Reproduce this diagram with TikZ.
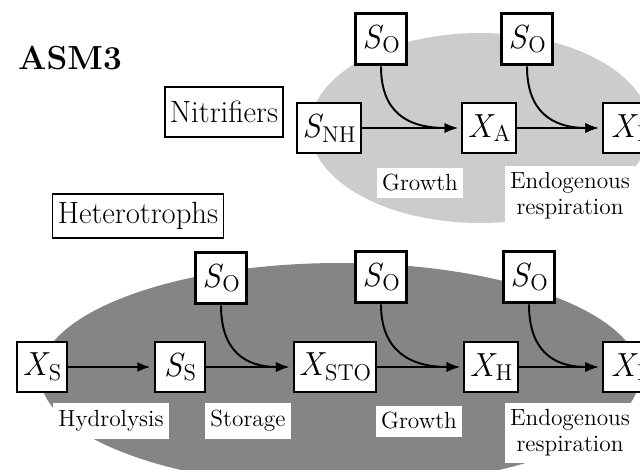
\documentclass[tikz,border=0pt]{standalone}
\usepackage{fontspec}
\usepackage{tikz}
\usetikzlibrary{arrows.meta}

% italic variable with an upright index
\newcommand{\vsub}[2]{\textit{#1}\kern-0.5pt\raisebox{-0.32ex}{\fontsize{13}{13}\selectfont #2}}

\tikzset{
  var/.style={draw, line width=1.1pt, fill=white, minimum height=28.5pt,
    minimum width=28.5pt, inner xsep=3pt, font=\fontsize{19}{22}\selectfont},
  oxy/.style={var, line width=1.7pt, minimum width=29.5pt, minimum height=29.5pt},
  group/.style={draw, line width=1.1pt, fill=white, inner xsep=3pt,
    font=\fontsize{17.5}{20}\selectfont},
  proc/.style={fill=white, inner xsep=3pt, inner ysep=4pt, align=center,
    font=\fontsize{13.3}{14.8}\selectfont},
  flow/.style={line width=1.3pt, -{Latex[length=7.5pt,width=5.7pt]}, shorten >=2pt},
  feed/.style={flow, line width=1.1pt},
}

\begin{document}
\begin{tikzpicture}[x=0.02cm,y=-0.02cm] % one unit = one pixel, y pointing down
\useasboundingbox (0,0) rectangle (640,470);
\clip (0,0) rectangle (640,470);

% the two biomass groups
\fill[black!20] (480,128) ellipse [x radius=170, y radius=95];
\fill[black!48] (340,375) ellipse [x radius=300, y radius=112];

\node[font=\fontsize{19}{22}\selectfont\bfseries] (title) at (70,58) {ASM3};
\node[group, minimum height=28pt] (nitr) at (224,112) {Nitrifiers};
\node[group, minimum height=25pt] (het) at (138,216) {Heterotrophs};

% process names
\node[proc] (growA) at (420,183) {Growth};
\node[proc] (respA) at (570,196) {Endogenous\\respiration};
\node[proc] (hydr) at (111,421) {Hydrolysis};
\node[proc] (stor) at (248,421) {Storage};
\node[proc] (growH) at (419,421) {Growth};
\node[proc] (respH) at (570,433) {Endogenous\\respiration};

% nitrifiers
\node[oxy] (so1) at (381,39) {\vsub{S}{O}};
\node[oxy] (so2) at (527,39) {\vsub{S}{O}};
\node[var] (snh) at (329,128) {\vsub{S}{NH}};
\node[var] (xa) at (489,128) {\vsub{X}{A}};
\node[var] (xi1) at (628,128) {\vsub{X}{I}};

\draw[flow] (snh) -- (xa);
\draw[flow] (xa) -- (xi1);
\draw[feed] (so1.south) .. controls +(0,45) and +(-55,0) .. (xa.west);
\draw[feed] (so2.south) .. controls +(0,45) and +(-50,0) .. (xi1.west);

% heterotrophs
\node[oxy] (so3) at (221,278) {\vsub{S}{O}};
\node[oxy] (so4) at (381,277) {\vsub{S}{O}};
\node[oxy] (so5) at (529,277) {\vsub{S}{O}};
\node[var] (xs) at (42,367) {\vsub{X}{S}};
\node[var] (ss) at (180,367) {\vsub{S}{S}};
\node[var] (xsto) at (335,367) {\vsub{X}{STO}};
\node[var] (xh) at (491,367) {\vsub{X}{H}};
\node[var] (xi2) at (628,367) {\vsub{X}{I}};

\draw[flow] (xs) -- (ss);
\draw[flow] (ss) -- (xsto);
\draw[flow] (xsto) -- (xh);
\draw[flow] (xh) -- (xi2);
\draw[feed] (so3.south) .. controls +(0,45) and +(-48,0) .. (xsto.west);
\draw[feed] (so4.south) .. controls +(0,45) and +(-55,0) .. (xh.west);
\draw[feed] (so5.south) .. controls +(0,45) and +(-50,0) .. (xi2.west);
\end{tikzpicture}
\end{document}
